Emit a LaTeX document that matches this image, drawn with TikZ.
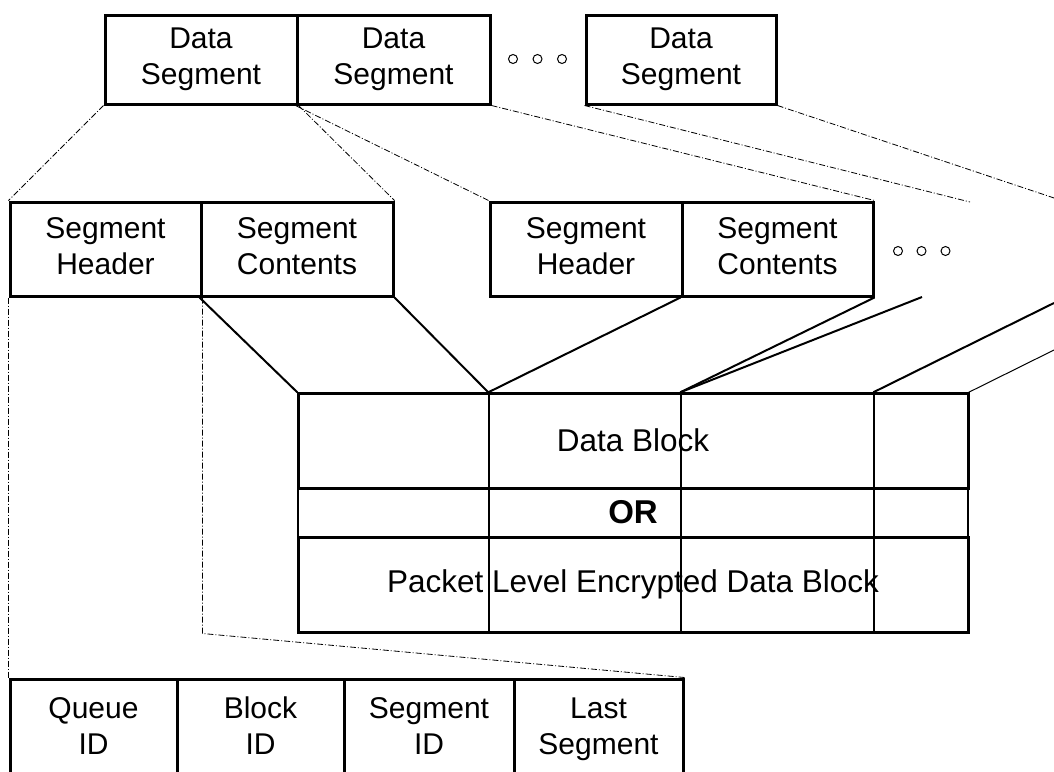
\documentclass[tikz,border=0pt]{standalone}
\usepackage{fontspec}
\setmainfont{Liberation Sans}
\newcommand{\two}[2]{\strut #1\\\strut #2}
\begin{document}
\begin{tikzpicture}[x=1pt,y=-1pt,
  txt/.style={font=\fontsize{30}{36}\selectfont, align=center, inner sep=0pt},
  cell/.style={txt, draw, line width=3pt},
  col/.style={draw, line width=1.4pt, inner sep=0pt, minimum height=239pt},
  wide/.style={font=\fontsize{31.5}{36}\selectfont, inner sep=0pt, draw, line width=3pt, minimum width=670pt, minimum height=95pt},
  link/.style={line width=2pt},
  thinlink/.style={line width=1pt},
  trace/.style={line width=0.8pt, dash pattern=on 6pt off 2pt on 1pt off 2pt},
  dot/.style={line width=1pt}]
\useasboundingbox (0,0) rectangle (1054,771);
\clip (0,0) rectangle (1054,771);

% top row of data segments
\node[cell, minimum width=192pt, minimum height=89pt] (ds1) at (201,59.5) {\two{Data}{Segment}};
\node[cell, minimum width=193pt, minimum height=89pt] (ds2) at (393.5,59.5) {\two{Data}{Segment}};
\node[cell, minimum width=190pt, minimum height=89pt] (ds3) at (681,59.5) {\two{Data}{Segment}};
\foreach \x in {513,537.5,562} \draw[dot] (\x,59) circle (4.5);

% segment header / contents pairs
\node[cell, minimum width=191pt, minimum height=94pt] (sh1) at (105.5,249) {\two{Segment}{Header}};
\node[cell, minimum width=192pt, minimum height=94pt] (sc1) at (297,249) {\two{Segment}{Contents}};
\node[cell, minimum width=192pt, minimum height=94pt] (sh2) at (586,249) {\two{Segment}{Header}};
\node[cell, minimum width=191pt, minimum height=94pt] (sc2) at (777.5,249) {\two{Segment}{Contents}};
\foreach \x in {898,921.5,945.5} \draw[dot] (\x,251) circle (4.5);

% data block columns
\node[col, minimum width=191pt] (c1) at (393.5,512.5) {};
\node[col, minimum width=192pt] (c2) at (585,512.5) {};
\node[col, minimum width=193pt] (c3) at (777.5,512.5) {};
\node[col, minimum width=94pt]  (c4) at (921,512.5) {};
\node[wide] (db) at (633,440.5) {Data Block};
\node[inner sep=0pt, font=\fontsize{33}{36}\selectfont\bfseries] (or) at (633,512.5) {OR};
\node[wide] (enc) at (633,584.5) {Packet Level Encrypted Data Block};

% header fields
\node[cell, minimum width=167pt, minimum height=100pt] (q1) at (93.5,729) {\two{Queue}{ID}};
\node[cell, minimum width=167pt, minimum height=100pt] (q2) at (260.5,729) {\two{Block}{ID}};
\node[cell, minimum width=170pt, minimum height=100pt] (q3) at (429,729) {\two{Segment}{ID}};
\node[cell, minimum width=169pt, minimum height=100pt] (q4) at (598.5,729) {\two{Last}{Segment}};

% free ends of connectors
\coordinate (e1) at (922,297);
\coordinate (e2) at (1054,303);
\coordinate (e3) at (1054,350);
\coordinate (f1) at (970,202);
\coordinate (f2) at (1054,198);
\coordinate (hc) at (sh1.south east |- enc.south);

% contents mapped onto the data block
\draw[link] (sc1.south west) -- (c1.north west);
\draw[link] (sc1.south east) -- (c2.north west);
\draw[link] (sc2.south west) -- (c2.north west);
\draw[link] (sc2.south east) -- (c3.north west);
\draw[link] (e1) -- (c3.north west);
\draw[link] (e2) -- (c4.north west);
\draw[thinlink] (e3) -- (c4.north east);

% expansions of segments
\draw[trace] (ds1.south west) -- (sh1.north west);
\draw[trace] (ds1.south east) -- (sc1.north east);
\draw[trace] (ds2.south west) -- (sh2.north west);
\draw[trace] (ds2.south east) -- (sc2.north east);
\draw[trace] (ds3.south west) -- (f1);
\draw[trace] (ds3.south east) -- (f2);
\draw[trace] (sh1.south west) -- (q1.north west);
\draw[trace] (sh1.south east) -- (hc) -- (q4.north east);
\end{tikzpicture}
\end{document}
